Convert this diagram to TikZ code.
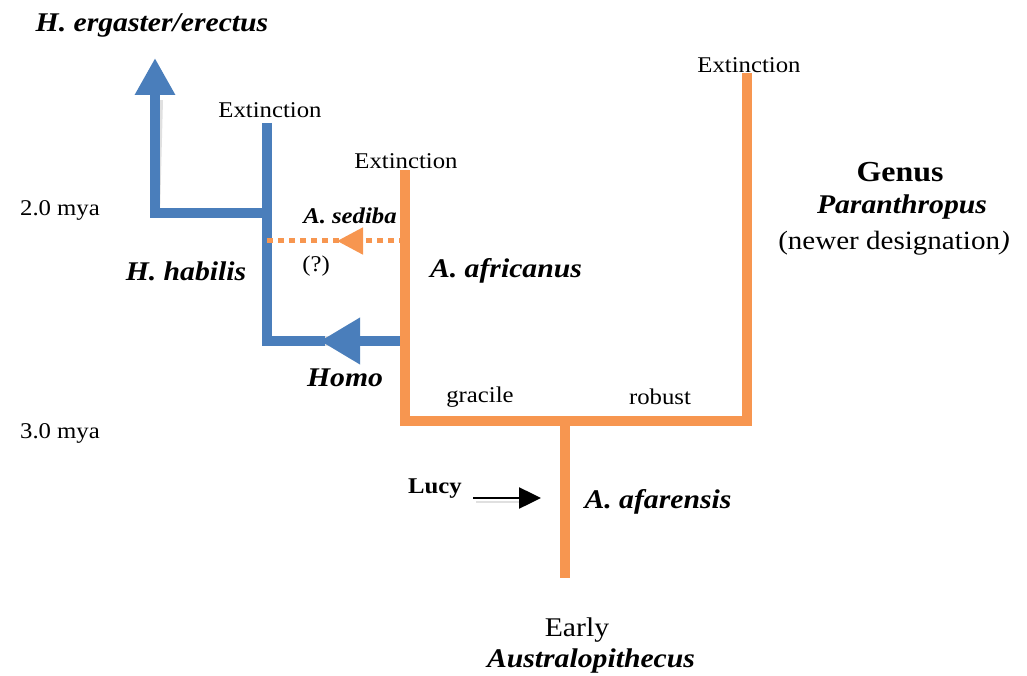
\documentclass[tikz,border=0pt]{standalone}
\usepackage{fontspec}
\setmainfont[FakeStretch=1.1]{Liberation Serif}
\usetikzlibrary{arrows.meta}

\definecolor{homoblue}{RGB}{74,126,187}
\definecolor{australorange}{RGB}{247,150,80}

\begin{document}
\begin{tikzpicture}[x=1pt,y=-1pt,
  branch/.style={line width=10pt},
  bluebranch/.style={branch, homoblue},
  orangebranch/.style={branch, australorange},
  shadowline/.style={line width=10pt, black, opacity=0.12},
  lbl/.style={inner sep=0pt, font=\fontsize{22.5}{24}\selectfont},
  taxon/.style={inner sep=0pt, font=\fontsize{27}{29}\selectfont\bfseries\itshape},
]
\useasboundingbox (0,0) rectangle (1027,676);

% joints of the tree
\coordinate (erectus-top) at (155,58);
\coordinate (erectus-base) at (155,213);
\coordinate (habilis-top) at (267,123);
\coordinate (habilis-fork) at (267,213);
\coordinate (habilis-base) at (267,341);
\coordinate (homo-tip) at (320,341);
\coordinate (africanus-top) at (405,175);
\coordinate (africanus-homo) at (405,341);
\coordinate (africanus-base) at (405,421);
\coordinate (sediba-start) at (405,241);
\coordinate (sediba-tip) at (337,241);
\coordinate (sediba-end) at (267,241);
\coordinate (split) at (565,421);
\coordinate (paran-top) at (747,78);
\coordinate (paran-base) at (747,421);
\coordinate (afarensis-base) at (565,578);

% soft shadows
\begin{scope}[shift={(3,4)}]
\draw[shadowline] (erectus-base) -- (habilis-fork);
\draw[shadowline] (erectus-base) -- (155,96);
\draw[shadowline] (habilis-top) -- (habilis-base) -- (africanus-homo);
\draw[shadowline] (africanus-top) -- (africanus-base) -- (paran-base) -- (paran-top);
\draw[shadowline] (split) -- (afarensis-base);
\draw[shadowline, line width=2.5pt] (473,498) -- (520,498);
\end{scope}

% Homo branch
\draw[bluebranch, -{Triangle[width=38pt,length=37pt]}, shorten <=-5pt] (erectus-base) -- (erectus-top);
\draw[bluebranch, line cap=rect] (erectus-base) -- (habilis-fork);
\draw[bluebranch] (habilis-top) -- (habilis-base);
\draw[bluebranch, line cap=rect] (habilis-base) -- (homo-tip);
\draw[bluebranch, -{Triangle[width=44pt,length=40pt]}] (africanus-homo) -- (homo-tip);

% Australopithecus branches
\draw[orangebranch, line cap=rect] (africanus-top) -- (africanus-base) -- (paran-base) -- (paran-top);
\draw[orangebranch] (split) -- (afarensis-base);
\draw[australorange, line width=5pt, dash pattern=on 6pt off 5pt] (sediba-start) -- (sediba-end);
\draw[australorange, line width=5pt, dash pattern=on 6pt off 5pt, -{Triangle[width=26pt,length=26pt]}] (sediba-start) -- (sediba-tip);

% labels
\node[taxon] (erectus) at (152,25) {H. ergaster/erectus};
\node[lbl] (ext-habilis) at (270,110) {Extinction};
\node[lbl] (ext-africanus) at (406,161) {Extinction};
\node[lbl] (ext-paran) at (749,65) {Extinction};
\node[lbl] (mya-two) at (60,210) {2.0 mya};
\node[lbl] (mya-three) at (60,433) {3.0 mya};
\node[taxon, font=\fontsize{22.5}{24}\selectfont\bfseries\itshape] (sediba) at (350,216) {A. sediba};
\node[lbl] (query) at (316,266) {(?)};
\node[taxon] (habilis) at (186,271) {H. habilis};
\node[taxon] (africanus) at (506,271) {A. africanus};
\node[taxon] (homo) at (345,378) {Homo};
\node[lbl] (gracile) at (480,397) {gracile};
\node[lbl] (robust) at (660,397) {robust};
\node[lbl, font=\fontsize{22.5}{24}\selectfont\bfseries] (lucy) at (435,489) {Lucy};
\node[taxon] (afarensis) at (658,502) {A. afarensis};
\node[lbl, font=\fontsize{27}{29}\selectfont] (early) at (577,630) {Early};
\node[taxon] (australo) at (591,661) {Australopithecus};
\node[lbl, font=\fontsize{29}{31}\selectfont\bfseries] (genus) at (900,172) {Genus};
\node[taxon] (paran) at (902,207) {Paranthropus};
\node[lbl, font=\fontsize{26.4}{28}\selectfont] (newer) at (894,243) {(newer designation\textit{)}};

% Lucy pointer
\coordinate (lucy-from) at (473,498);
\coordinate (lucy-to) at (541,498);
\draw[line width=2.5pt, -{Triangle[width=21pt,length=22pt]}] (lucy-from) -- (lucy-to);
\end{tikzpicture}
\end{document}
